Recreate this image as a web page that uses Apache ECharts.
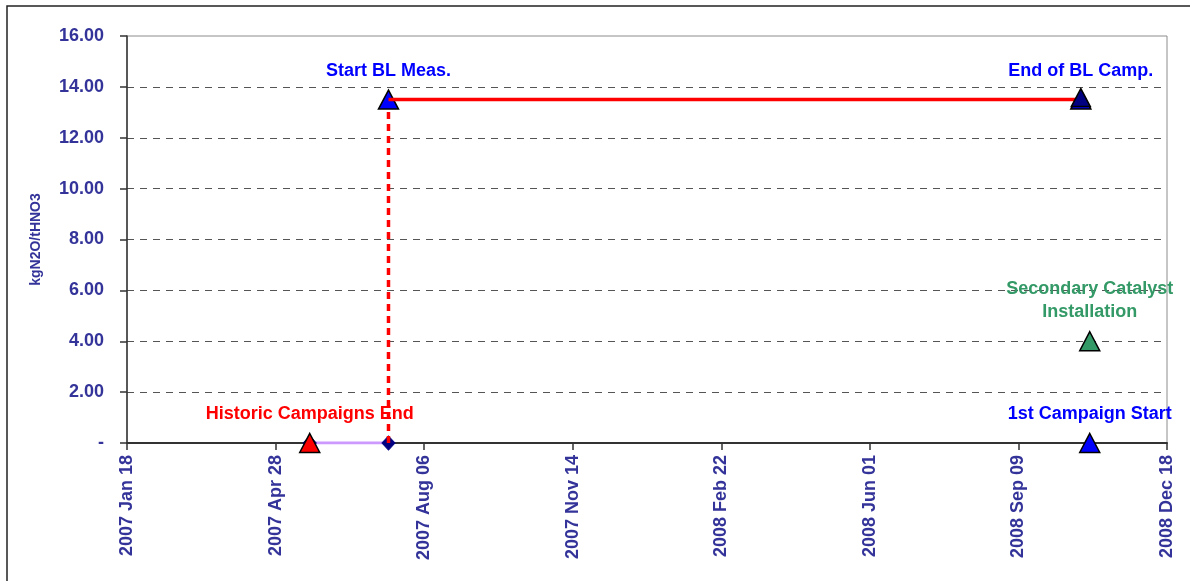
<!DOCTYPE html>
<html>
<head>
<meta charset="utf-8">
<script src="https://cdn.jsdelivr.net/npm/echarts@6/dist/echarts.min.js"></script>
<style>
  html, body { margin: 0; padding: 0; background: #ffffff; }
  #chart { width: 1190px; height: 581px; }
</style>
</head>
<body>
<div id="chart"></div>
<script>
// Axis range: days counted from the first tick date
const axisStartDate = '2007-01-18';
const xTickLabels = ['2007 Jan 18', '2007 Apr 28', '2007 Aug 06', '2007 Nov 14',
                     '2008 Feb 22', '2008 Jun 01', '2008 Sep 09', '2008 Dec 18'];
const yTickLabels = ['-', '2.00', '4.00', '6.00', '8.00', '10.00', '12.00', '14.00', '16.00'];

// Milestones
const eventNames  = ['Historic Campaigns End', 'Start BL Meas.', 'End of BL Camp.',
                     'Secondary Catalyst\nInstallation', '1st Campaign Start'];
const eventDates  = ['2007-05-21', '2007-07-13', '2008-10-21', '2008-10-27', '2008-10-27'];
const eventValues = [0, 13.5, 13.5, 4, 0];

// Gap between the historic campaigns and the baseline measurement
const historicGapDates  = ['2007-05-21', '2007-07-13'];
const historicGapValues = [0, 0];

// Baseline campaign level
const baselineDates  = ['2007-07-13', '2008-10-21'];
const baselineValues = [13.5, 13.5];

// Drop line at the baseline start
const dropLineDates  = ['2007-07-13', '2007-07-13'];
const dropLineValues = [0, 13.5];

function dayOffset(s) {
  const p = s.split('-').map(Number);
  const q = axisStartDate.split('-').map(Number);
  return Math.round((Date.UTC(p[0], p[1] - 1, p[2]) - Date.UTC(q[0], q[1] - 1, q[2])) / 86400000);
}
function pairs(dates, values) {
  return dates.map((d, i) => [dayOffset(d), values[i]]);
}

const FONT = '"Liberation Sans", Arial, sans-serif';
const AXIS_TEXT = '#333399';
const eventStyle = [
  { fill: '#ff0000', text: '#ff0000' },
  { fill: '#0000ff', text: '#0000ff' },
  { fill: '#0000ff', text: '#0000ff' },
  { fill: '#339966', text: '#339966' },
  { fill: '#0000ff', text: '#0000ff' }
];

const eventData = eventNames.map((n, i) => ({
  name: n,
  value: [dayOffset(eventDates[i]), eventValues[i]],
  itemStyle: { color: eventStyle[i].fill, borderColor: '#000', borderWidth: 1.5, opacity: 1 },
  label: { color: eventStyle[i].text }
}));

const baselineData = pairs(baselineDates, baselineValues).map((v, i, arr) => ({
  value: v,
  symbol: i === arr.length - 1 ? 'triangle' : 'none'
}));

const chart = echarts.init(document.getElementById('chart'), null, { renderer: 'canvas' });
chart.setOption({
  animation: false,
  backgroundColor: '#ffffff',
  graphic: [{
    type: 'rect',
    shape: { x: 7, y: 6, width: 1300, height: 700 },
    style: { fill: 'none', stroke: '#222', lineWidth: 1.5 },
    silent: true
  }],
  grid: {
    left: 127, right: 23, top: 36, bottom: 138,
    show: true, borderColor: '#8c8c8c', borderWidth: 1, backgroundColor: 'transparent'
  },
  xAxis: {
    type: 'value',
    min: 0, max: 700, interval: 100,
    axisLine: { lineStyle: { color: '#333', width: 2 } },
    axisTick: { show: true, length: 7, lineStyle: { color: '#333', width: 1.5 } },
    splitLine: { show: false },
    axisLabel: {
      rotate: 90, margin: 12,
      color: AXIS_TEXT, fontFamily: FONT, fontWeight: 'bold', fontSize: 18,
      formatter: v => xTickLabels[Math.round(v / 100)]
    }
  },
  yAxis: {
    type: 'value',
    min: 0, max: 16, interval: 2,
    name: 'kgN2O/tHNO3',
    nameLocation: 'middle', nameRotate: 90, nameGap: 84,
    nameTextStyle: { color: AXIS_TEXT, fontFamily: FONT, fontWeight: 'bold', fontSize: 14 },
    axisLine: { show: true, lineStyle: { color: '#333', width: 1.5 } },
    axisTick: { show: true, length: 7, lineStyle: { color: '#333', width: 1.5 } },
    splitLine: {
      show: true, showMinLine: false, showMaxLine: false,
      lineStyle: { color: '#555', type: [7, 6], width: 1 }
    },
    axisLabel: {
      margin: 23,
      color: AXIS_TEXT, fontFamily: FONT, fontWeight: 'bold', fontSize: 18,
      formatter: v => yTickLabels[Math.round(v / 2)]
    }
  },
  series: [
    {
      type: 'line',
      data: pairs(historicGapDates, historicGapValues),
      lineStyle: { color: '#cc99ff', width: 3 },
      symbol: 'diamond', symbolSize: [13, 14], showSymbol: true,
      itemStyle: { color: '#000080', borderColor: '#000080', opacity: 1 },
      z: 3
    },
    {
      type: 'line',
      data: pairs(dropLineDates, dropLineValues),
      lineStyle: { color: '#ff0000', width: 3.5, type: [7, 5] },
      symbol: 'none',
      z: 4
    },
    {
      type: 'line',
      data: baselineData,
      lineStyle: { color: '#ff0000', width: 3.5 },
      symbolSize: [19, 18], symbolOffset: [0, -2],
      itemStyle: { color: '#000080', borderColor: '#000', borderWidth: 1.5, opacity: 1 },
      z: 6
    },
    {
      type: 'scatter',
      data: eventData,
      symbol: 'triangle', symbolSize: [20, 19],
      label: {
        show: true, position: 'top', distance: 7,
        formatter: p => p.name,
        fontFamily: FONT, fontWeight: 'bold', fontSize: 18, lineHeight: 23, align: 'center'
      },
      emphasis: { disabled: true },
      z: 5
    }
  ]
});
</script>
</body>
</html>
